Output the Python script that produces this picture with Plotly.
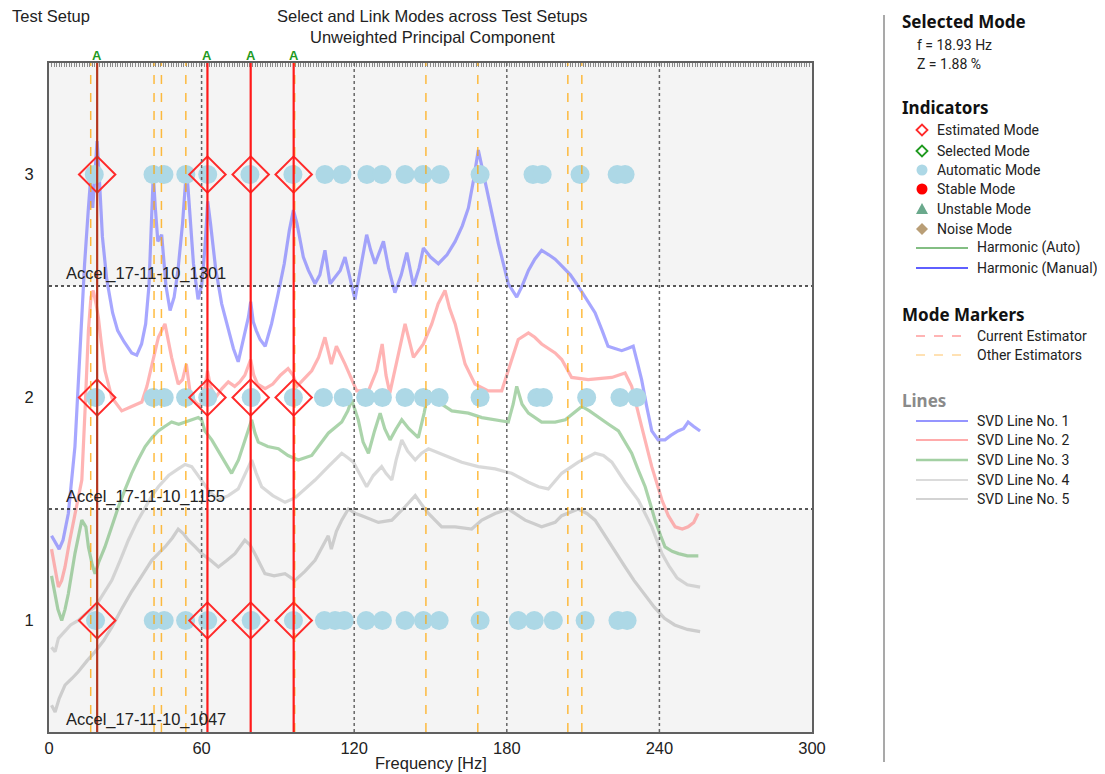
import plotly.graph_objects as go

# ---------------- data ----------------
setup_names = ["Accel_17-11-10_1047", "Accel_17-11-10_1155", "Accel_17-11-10_1301"]
setup_levels = [1, 2, 3]

est_freqs = [18.93, 62.3, 79.3, 96.2]            # estimated / linked modes (red)
other_est_freqs = [16.4, 41.3, 44.2, 53.8, 96.6, 148.2, 168.6, 204.0, 209.5]  # orange dashed
grid_freqs = [60, 120, 180, 240]

auto_row1 = [18.3, 41.0, 45.3, 53.7, 62.4, 79.5, 96.1, 108.3, 112.5, 116.1, 124.7, 131.1,
             140.0, 147.2, 153.4, 169.5, 184.5, 190.8, 198.3, 210.8, 223.7, 227.3]
auto_row2 = [18.3, 41.0, 45.3, 53.7, 62.4, 79.5, 96.1, 107.9, 115.7, 124.5, 131.1, 140.0,
             147.2, 153.4, 169.5, 191.8, 194.4, 211.4, 224.5, 231.1]
auto_row3 = [17.8, 40.9, 45.2, 53.8, 62.4, 79.0, 95.9, 108.5, 115.2, 125.0, 130.9, 140.0,
             147.1, 153.8, 169.5, 190.3, 193.9, 208.8, 223.4, 226.5]

svd1_f = [1.0, 2.4, 4, 5.5, 7.6, 10.2, 11.5, 12.5, 14, 15.5, 16.3, 17.2, 18.3, 18.9, 19.8, 21,
          22.7, 25, 27, 29.5, 32.5, 34.5, 36.4, 38, 39.3, 40.3, 41, 41.8, 42.8, 44.3, 46, 47.6,
          49.2, 50.7, 52.5, 54.1, 55.3, 56.8, 58.6, 60, 61.3, 62.4, 63.5, 65.5, 67.9, 70.5, 72.5,
          74.4, 76.5, 78.4, 79.3, 80.3, 81.5, 83, 85, 87.5, 90, 92.5, 94.5, 96.1, 97.5, 100, 102,
          104.6, 106.5, 108.5, 110.5, 112.5, 114.5, 116.4, 118.5, 120.3, 122.5, 124.9, 126.5,
          128.2, 131.5, 133.5, 136, 138.5, 140.7, 143.3, 145.5, 147.2, 150, 153.1, 156.5, 159.7,
          162.5, 164.9, 167, 168.8, 170.5, 172.7, 176.7, 180.6, 183.9, 186, 188.5, 191, 193.7,
          196.5, 199, 201.6, 205, 208, 211.5, 214.7, 217.5, 219.8, 222.5, 225.2, 227.5, 229.7,
          231.5, 233, 235, 237, 239.5, 242.2, 244.5, 247.3, 249.5, 251.3, 253.5, 256]
svd1_v = [1.38, 1.35, 1.32, 1.36, 1.48, 1.78, 2.08, 2.3, 2.6, 2.85, 2.97, 2.85, 3.05, 3.15, 2.98,
          2.72, 2.53, 2.38, 2.3, 2.25, 2.2, 2.19, 2.24, 2.33, 2.5, 2.8, 3.0, 2.85, 2.7, 2.73, 2.5,
          2.39, 2.45, 2.57, 2.78, 3.03, 2.82, 2.6, 2.44, 2.5, 2.67, 2.88, 2.78, 2.58, 2.42, 2.3,
          2.22, 2.16, 2.27, 2.36, 2.43, 2.34, 2.3, 2.26, 2.23, 2.33, 2.46, 2.6, 2.75, 2.84, 2.78,
          2.63, 2.57, 2.51, 2.55, 2.66, 2.51, 2.54, 2.57, 2.63, 2.52, 2.44, 2.58, 2.73, 2.66, 2.6,
          2.7, 2.58, 2.47, 2.55, 2.65, 2.5, 2.58, 2.67, 2.63, 2.6, 2.64, 2.7, 2.77, 2.85, 2.98,
          3.11, 3.02, 2.9, 2.69, 2.51, 2.45, 2.5, 2.57, 2.62, 2.66, 2.64, 2.62, 2.59, 2.55, 2.5,
          2.44, 2.38, 2.3, 2.23, 2.22, 2.21, 2.22, 2.23, 2.15, 2.08, 1.96, 1.85, 1.81, 1.81, 1.83,
          1.85, 1.86, 1.89, 1.87, 1.85]

svd2_f = [1.0, 2.4, 3.7, 5, 6.3, 8, 10.2, 12.9, 14.2, 15.5, 16.5, 17.4, 18.5, 19.4, 20.5, 22,
          24.7, 28.6, 32.5, 36.5, 38.5, 40.4, 43, 45.6, 47, 48.2, 50.8, 52.5, 54, 55.5, 57.5,
          59.5, 61, 62.3, 63.5, 65.5, 68, 70.5, 73, 75, 77, 79.3, 80.5, 82, 85, 88, 91, 94, 96,
          97.5, 100, 103.3, 106, 108.5, 111, 113, 116.4, 119, 121, 125.6, 128.8, 131, 132.5, 134,
          137, 140, 143.3, 147.2, 150.5, 153, 155.7, 157.5, 159.7, 163.6, 167.5, 172.7, 178,
          181.3, 184.5, 188.5, 191, 193.7, 199, 201.6, 205.5, 212, 221.3, 226.5, 229.1, 233, 237,
          241, 243.5, 246.2, 249, 251.3, 253.5, 255.2]
svd2_v = [1.32, 1.24, 1.15, 1.18, 1.24, 1.35, 1.48, 1.63, 1.95, 2.3, 2.45, 2.48, 2.42, 2.36, 2.25,
          2.12, 2.0, 1.94, 1.96, 1.98, 2.05, 2.15, 2.27, 2.33, 2.25, 2.18, 2.06, 2.08, 2.15, 2.02,
          1.98, 1.96, 2.02, 2.12, 2.05, 2.0, 2.04, 2.07, 2.05, 2.07, 2.1, 2.17, 2.1, 2.06, 2.04,
          2.06, 2.1, 2.13, 2.1, 2.05, 2.08, 2.12, 2.18, 2.27, 2.15, 2.23, 2.15, 2.08, 2.03, 2.03,
          2.12, 2.24, 2.1, 2.02, 2.18, 2.33, 2.18, 2.24, 2.33, 2.42, 2.48, 2.4, 2.33, 2.15, 2.06,
          2.03, 2.03, 2.15, 2.26, 2.29, 2.27, 2.24, 2.2, 2.17, 2.09, 2.08, 2.09, 2.11, 2.05, 1.87,
          1.69, 1.54, 1.47, 1.42, 1.41, 1.42, 1.44, 1.48]

svd3_f = [1.0, 2.4, 3.5, 5, 6.3, 7.6, 10.2, 12.9, 14.5, 15.5, 17, 18.1, 19.5, 22, 24.5, 27.3,
          30, 32.5, 35, 37.8, 40.5, 43, 45.5, 48.2, 51, 53.5, 56, 58.7, 60, 61.3, 64, 66.5, 69.2,
          71.8, 74.5, 77, 79.7, 81, 82.3, 86, 90.2, 94, 98, 103.3, 106.5, 109.8, 115.1, 117.5,
          119, 121.6, 123.5, 125.6, 128, 130.2, 132, 134.1, 136.5, 138.7, 141.5, 145.2, 147.5,
          149.2, 151, 153.1, 158.4, 164.9, 170.2, 175.4, 180.6, 182.5, 183.9, 186, 188.5, 193.7,
          199, 203, 206.5, 209.5, 212.5, 216, 220, 223.9, 226.5, 229.1, 231.5, 234.4, 236.5,
          238.3, 240.5, 242.2, 245, 247.5, 251, 255.3]
svd3_v = [1.2, 1.12, 1.05, 1.0, 1.05, 1.12, 1.3, 1.45, 1.42, 1.33, 1.25, 1.21, 1.26, 1.33, 1.42,
          1.51, 1.59, 1.66, 1.72, 1.78, 1.82, 1.85, 1.87, 1.89, 1.88, 1.89, 1.9, 1.91, 1.9, 1.85,
          1.81, 1.76, 1.71, 1.66, 1.72, 1.81, 1.9, 1.84, 1.8, 1.78, 1.77, 1.74, 1.72, 1.74, 1.79,
          1.84, 1.89, 1.94, 1.99, 1.9, 1.8, 1.75, 1.85, 1.93, 1.86, 1.81, 1.86, 1.9, 1.86, 1.82,
          1.93, 2.03, 2.0, 1.98, 1.94, 1.93, 1.91, 1.9, 1.89, 1.97, 2.05, 1.97, 1.93, 1.89, 1.89,
          1.9, 1.93, 1.96, 1.94, 1.91, 1.88, 1.85, 1.8, 1.75, 1.68, 1.6, 1.52, 1.45, 1.38, 1.33,
          1.31, 1.3, 1.29, 1.29]

svd4_f = [1.0, 2.4, 3.7, 6, 8.5, 11.5, 14.5, 18.1, 21, 24.7, 28, 31.2, 34.5, 37.8, 40.5, 43, 47,
          50.8, 53.5, 56.1, 60, 63, 66.6, 70.5, 74.4, 77, 79.7, 81.5, 83.6, 88, 92.8, 96.7, 100.5,
          104.6, 109.8, 115.1, 117.5, 119.7, 122.5, 124.9, 127.5, 130.8, 132.5, 134.8, 136.5,
          138.7, 141, 144, 146.5, 149.2, 155.7, 162.3, 168.8, 175.4, 181.9, 188.5, 192.5, 196.3,
          201.6, 208.1, 214.7, 218, 221.3, 224, 226.5, 231.7, 234.5, 237, 239, 241, 244, 247, 251,
          256]
svd4_v = [0.88, 0.86, 0.92, 0.95, 0.98, 1.0, 1.03, 1.06, 1.11, 1.18, 1.27, 1.36, 1.44, 1.51,
          1.56, 1.6, 1.65, 1.68, 1.7, 1.69, 1.63, 1.58, 1.54, 1.56, 1.59, 1.65, 1.72, 1.66, 1.6,
          1.56, 1.53, 1.55, 1.59, 1.63, 1.69, 1.75, 1.73, 1.71, 1.65, 1.6, 1.65, 1.69, 1.66, 1.63,
          1.72, 1.81, 1.76, 1.72, 1.75, 1.77, 1.74, 1.71, 1.69, 1.68, 1.66, 1.62, 1.6, 1.59, 1.66,
          1.71, 1.75, 1.74, 1.71, 1.66, 1.62, 1.54, 1.48, 1.42, 1.36, 1.3, 1.24, 1.19, 1.16, 1.15]

svd5_f = [1.0, 2.4, 4, 6.3, 9, 11.5, 15, 18.1, 21.5, 24.7, 28.5, 32.5, 36.5, 40.4, 43, 45.6,
          48.5, 50.8, 52.8, 54.8, 57.5, 60, 63.5, 66.6, 70, 73.1, 77, 79, 80.9, 83, 84.9, 88.5,
          92.8, 96.7, 100.6, 104.6, 107.5, 109.8, 111, 113, 115.1, 117.7, 120.5, 123, 129.5,
          134.8, 140, 144, 146.5, 149.2, 154.4, 159.7, 166.2, 170.2, 175.4, 180.6, 187.2, 193.7,
          199, 201.6, 208.1, 211.5, 214.7, 218, 221.3, 224, 226.5, 230, 234, 238, 242, 246, 251,
          256]
svd5_v = [0.62, 0.59, 0.65, 0.71, 0.74, 0.77, 0.82, 0.86, 0.91, 0.97, 1.05, 1.13, 1.2, 1.27,
          1.3, 1.33, 1.37, 1.41, 1.39, 1.36, 1.33, 1.3, 1.27, 1.24, 1.27, 1.3, 1.36, 1.34, 1.3,
          1.25, 1.21, 1.2, 1.21, 1.18, 1.22, 1.27, 1.33, 1.38, 1.32, 1.4, 1.45, 1.5, 1.48, 1.47,
          1.44, 1.45, 1.51, 1.56, 1.52, 1.48, 1.42, 1.42, 1.41, 1.45, 1.48, 1.5, 1.45, 1.42, 1.44,
          1.47, 1.5, 1.48, 1.45, 1.39, 1.33, 1.28, 1.24, 1.18, 1.12, 1.06, 1.01, 0.98, 0.96, 0.95]

selected_mode_text = ["f = 18.93 Hz", "Z = 1.88 %"]
indicator_labels = ["Estimated Mode", "Selected Mode", "Automatic Mode", "Stable Mode",
                    "Unstable Mode", "Noise Mode", "Harmonic (Auto)", "Harmonic (Manual)"]
marker_labels = ["Current Estimator", "Other Estimators"]
line_labels = ["SVD Line No. 1", "SVD Line No. 2", "SVD Line No. 3", "SVD Line No. 4", "SVD Line No. 5"]

# ---------------- figure geometry (reference pixel frame) ----------------
PAGE_OFF = 8                      # browser body margin
FIG_W, FIG_H = 1105 - PAGE_OFF, 774 - PAGE_OFF
L, R, T, B = 49, 812, 63, 732     # plot area in reference pixels
PW, PH = R - L, B - T


def px(xp):
    return (xp - L) / PW


def py(yp):
    return (B - yp) / PH


CHART_FONT = "Liberation Sans, Arial, sans-serif"
LEG_FONT = "Roboto, Noto Sans, sans-serif"
HEAD_FONT = "Noto Sans, Open Sans, sans-serif"
FS = 16.5

fig = go.Figure()

svd_styles = [
    (svd5_f, svd5_v, "rgba(150,150,150,0.42)"),
    (svd4_f, svd4_v, "rgba(175,175,175,0.48)"),
    (svd3_f, svd3_v, "rgba(80,165,80,0.48)"),
    (svd2_f, svd2_v, "rgba(255,105,105,0.5)"),
    (svd1_f, svd1_v, "rgba(95,95,255,0.55)"),
]
for f, v, c in svd_styles:
    fig.add_trace(go.Scatter(x=f, y=v, mode="lines", line=dict(color=c, width=3.2),
                             hoverinfo="skip", showlegend=False))

for lvl, row in zip(setup_levels, [auto_row1, auto_row2, auto_row3]):
    fig.add_trace(go.Scatter(x=row, y=[lvl] * len(row), mode="markers",
                             marker=dict(symbol="circle", size=19, color="#add8e6"),
                             showlegend=False, hoverinfo="skip"))

for lvl in setup_levels:
    fig.add_trace(go.Scatter(x=est_freqs, y=[lvl] * len(est_freqs), mode="markers",
                             marker=dict(symbol="diamond-open", size=28, color="#ff2a2a",
                                         line=dict(width=2, color="#ff2a2a")),
                             showlegend=False, hoverinfo="skip"))

shapes = []
for lvl in setup_levels:
    if lvl != 2:
        shapes.append(dict(type="rect", xref="paper", yref="y", x0=0, x1=1,
                           y0=lvl - 0.5, y1=lvl + 0.5, fillcolor="#f4f4f4",
                           line=dict(width=0), layer="below"))
for lvl in setup_levels[:-1]:
    shapes.append(dict(type="line", xref="paper", yref="y", x0=0, x1=1,
                       y0=lvl + 0.5, y1=lvl + 0.5, line=dict(color="#222", width=1.5, dash="dot"),
                       layer="above"))
for g in grid_freqs:
    shapes.append(dict(type="line", xref="x", yref="paper", x0=g, x1=g, y0=0, y1=1,
                       line=dict(color="#666", width=1.5, dash="dot"), layer="above"))
for f in other_est_freqs:
    shapes.append(dict(type="line", xref="x", yref="paper", x0=f, x1=f, y0=0, y1=1,
                       line=dict(color="rgba(255,165,0,0.75)", width=1.5, dash="dash"),
                       layer="above"))
for i, f in enumerate(est_freqs):
    col = "#b5361e" if i == 0 else "#ff1a1a"
    shapes.append(dict(type="line", xref="x", yref="paper", x0=f, x1=f, y0=0, y1=1,
                       line=dict(color=col, width=2.2), layer="above"))

annotations = []
for f in est_freqs:
    annotations.append(dict(x=f, y=1, xref="x", yref="paper", yanchor="bottom", yshift=-2,
                            text="<b>A</b>", showarrow=False,
                            font=dict(family=CHART_FONT, size=13, color="#1f9a1f")))
for name, lvl in zip(setup_names, setup_levels):
    annotations.append(dict(x=5.9, y=lvl - 0.5, xref="x", yref="y", xanchor="left",
                            yanchor="bottom", yshift=1, text=name, showarrow=False,
                            font=dict(family=CHART_FONT, size=FS, color="#222")))

annotations.append(dict(x=px(10), y=py(16), xref="paper", yref="paper", xanchor="left",
                        yanchor="middle", text="Test Setup", showarrow=False,
                        font=dict(family=CHART_FONT, size=FS, color="#222")))
annotations.append(dict(x=px(432), y=py(16), xref="paper", yref="paper", xanchor="center",
                        yanchor="middle", text="Select and Link Modes across Test Setups",
                        showarrow=False, font=dict(family=CHART_FONT, size=FS, color="#222")))
annotations.append(dict(x=px(432), y=py(37), xref="paper", yref="paper", xanchor="center",
                        yanchor="middle", text="Unweighted Principal Component",
                        showarrow=False, font=dict(family=CHART_FONT, size=FS, color="#222")))
annotations.append(dict(x=0.5, y=py(763), xref="paper", yref="paper", xanchor="center",
                        yanchor="middle", text="Frequency [Hz]",
                        showarrow=False, font=dict(family=CHART_FONT, size=FS, color="#222")))

# ---------------- custom legend panel ----------------
shapes.append(dict(type="line", xref="paper", yref="paper", x0=px(884), x1=px(884),
                   y0=py(15), y1=py(762), line=dict(color="#8c8c8c", width=1.5)))


def head(text, yp, color="#111"):
    annotations.append(dict(x=px(900), y=py(yp), xref="paper", yref="paper", xanchor="left",
                            yanchor="middle", text="<b>" + text + "</b>", showarrow=False,
                            font=dict(family=HEAD_FONT, size=17, color=color)))


def item(text, xp, yp):
    annotations.append(dict(x=px(xp), y=py(yp), xref="paper", yref="paper", xanchor="left",
                            yanchor="middle", text=text, showarrow=False,
                            font=dict(family=LEG_FONT, size=14, color="#222")))


def pshape(path, fill, line):
    shapes.append(dict(type="path", xref="paper", yref="paper", path=path,
                       fillcolor=fill, line=line))


def diamond_path(cx, cy, r):
    return "M {} {} L {} {} L {} {} L {} {} Z".format(
        px(cx - r), py(cy), px(cx), py(cy - r), px(cx + r), py(cy), px(cx), py(cy + r))


head("Selected Mode", 22)
for t, yp in zip(selected_mode_text, [45, 64]):
    item(t, 915, yp)

head("Indicators", 108)
ind_y = [130, 151, 170, 189, 209, 229, 248, 268]
cx = 922
pshape(diamond_path(cx, ind_y[0], 5.5), "rgba(0,0,0,0)", dict(color="#ff2a2a", width=1.8))
pshape(diamond_path(cx, ind_y[1], 5.5), "rgba(0,0,0,0)", dict(color="#1f9a1f", width=1.8))
shapes.append(dict(type="circle", xref="paper", yref="paper", x0=px(cx - 5.5), x1=px(cx + 5.5),
                   y0=py(ind_y[2] + 5.5), y1=py(ind_y[2] - 5.5), fillcolor="#add8e6",
                   line=dict(width=0)))
shapes.append(dict(type="circle", xref="paper", yref="paper", x0=px(cx - 5.5), x1=px(cx + 5.5),
                   y0=py(ind_y[3] + 5.5), y1=py(ind_y[3] - 5.5), fillcolor="#ff0000",
                   line=dict(width=0)))
yy = ind_y[4]
pshape("M {} {} L {} {} L {} {} Z".format(px(cx - 6), py(yy + 5), px(cx), py(yy - 6),
                                          px(cx + 6), py(yy + 5)),
       "#6aa98c", dict(width=0))
pshape(diamond_path(cx, ind_y[5], 6), "#b99e76", dict(width=0))
for yp, col in zip(ind_y[6:], ["#5aa85a", "#2a2aff"]):
    shapes.append(dict(type="line", xref="paper", yref="paper", x0=px(916), x1=px(968),
                       y0=py(yp), y1=py(yp), line=dict(color=col, width=1.3)))
for i, (t, yp) in enumerate(zip(indicator_labels, ind_y)):
    item(t, 935 if i < 6 else 975, yp)

head("Mode Markers", 314)
mm_y = [336, 355]
for yp, col in zip(mm_y, ["#ff9c9c", "#ffd79a"]):
    shapes.append(dict(type="line", xref="paper", yref="paper", x0=px(916), x1=px(968),
                       y0=py(yp), y1=py(yp), line=dict(color=col, width=1.5, dash="dash")))
for t, yp in zip(marker_labels, mm_y):
    item(t, 975, yp)

head("Lines", 400, color="#8a8a8a")
ln_y = [421, 440, 460, 480, 499]
ln_cols = [("#7272ff", 1.3), ("#ff8f8f", 1.3), ("#a3d0a3", 2.5), ("#cfcfcf", 1.5), ("#c4c4c4", 1.3)]
for yp, (col, w) in zip(ln_y, ln_cols):
    shapes.append(dict(type="line", xref="paper", yref="paper", x0=px(916), x1=px(968),
                       y0=py(yp), y1=py(yp), line=dict(color=col, width=w)))
for t, yp in zip(line_labels, ln_y):
    item(t, 975, yp)

fig.update_layout(
    width=FIG_W, height=FIG_H,
    margin=dict(l=L - PAGE_OFF, r=FIG_W - (R - PAGE_OFF), t=T - PAGE_OFF,
                b=FIG_H - (B - PAGE_OFF), pad=0, autoexpand=False),
    paper_bgcolor="white", plot_bgcolor="white",
    showlegend=False,
    shapes=shapes, annotations=annotations,
    xaxis=dict(range=[0, 300], tickvals=[0, 60, 120, 180, 240, 300], showgrid=False,
               zeroline=False, showline=True, linecolor="#606060", linewidth=2, mirror=True,
               ticks="", automargin=False,
               tickfont=dict(family=CHART_FONT, size=FS, color="#222")),
    xaxis2=dict(range=[0, 300], overlaying="x", side="top", tickmode="linear", tick0=0,
                dtick=1, ticks="inside", ticklen=4, tickcolor="#8a8a8a", tickwidth=1,
                showticklabels=False, showgrid=False, zeroline=False, showline=False,
                automargin=False),
    yaxis=dict(range=[0.5, 3.5], tickvals=setup_levels, showgrid=False, zeroline=False,
               showline=True, linecolor="#606060", linewidth=2, mirror=True, ticks="",
               ticklabelstandoff=10, automargin=False,
               tickfont=dict(family=CHART_FONT, size=FS, color="#222")),
)
fig.add_trace(go.Scatter(x=[0, 300], y=[0.5, 0.5], xaxis="x2", mode="lines",
                         line=dict(width=0), hoverinfo="skip", showlegend=False))

fig.write_html("out.html")
